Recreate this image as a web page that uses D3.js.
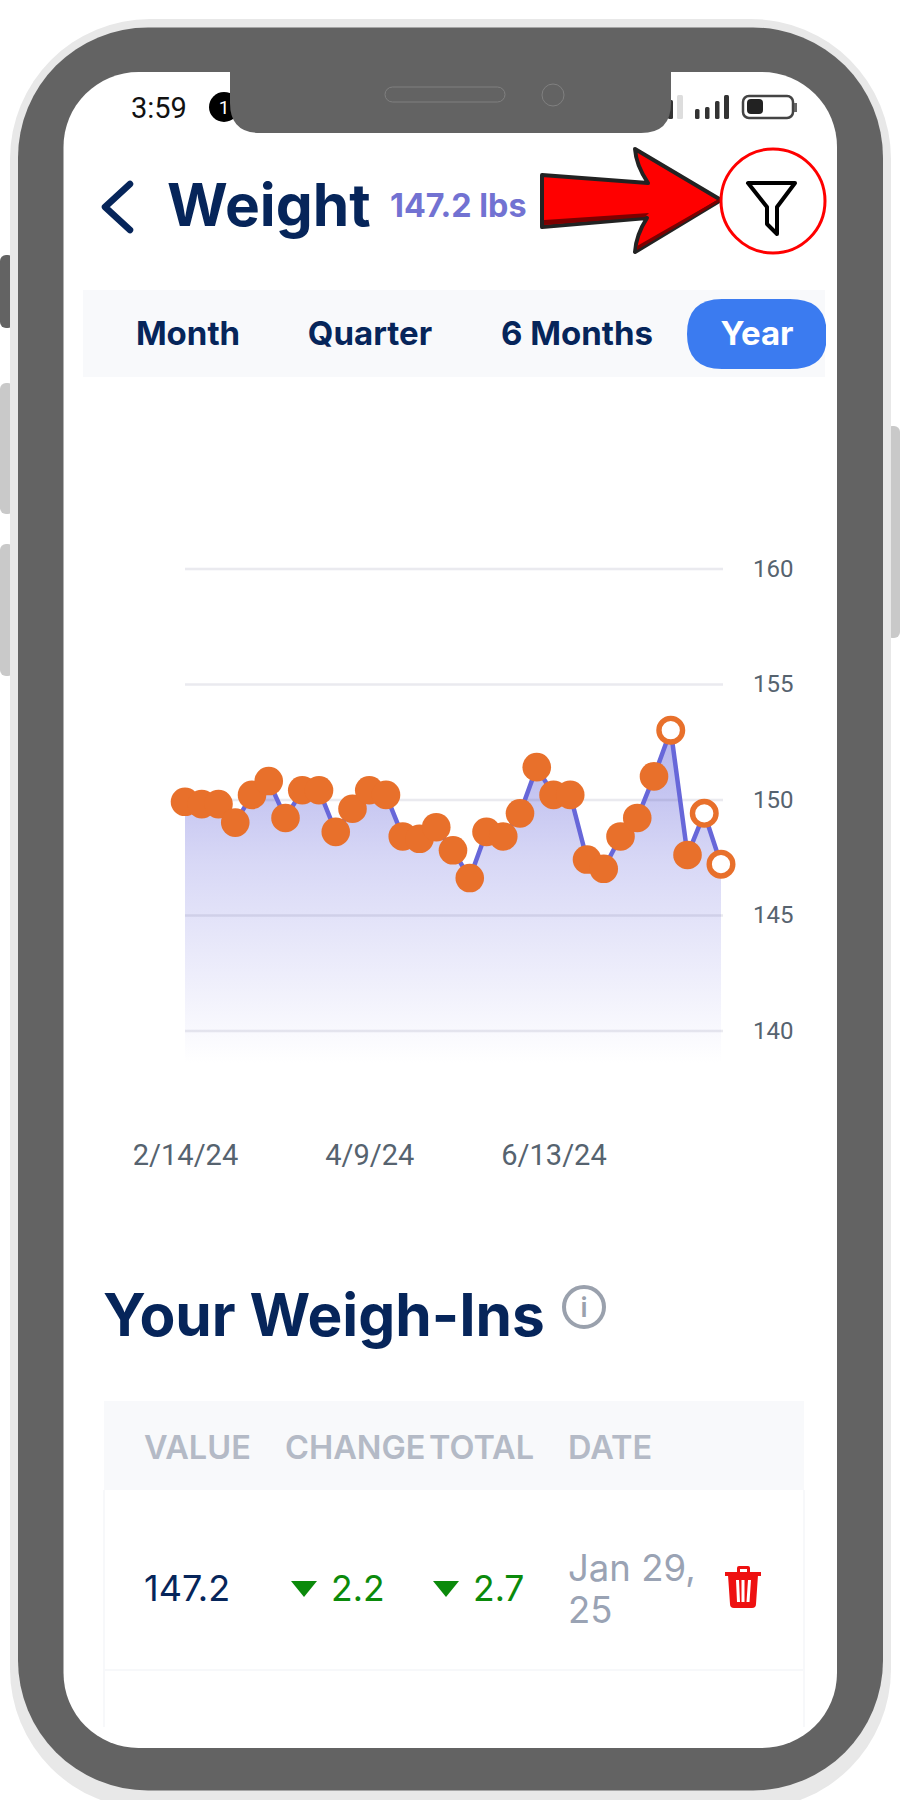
<!DOCTYPE html>
<html>
<head>
<meta charset="utf-8">
<script src="https://cdn.jsdelivr.net/npm/d3@7"></script>
<style>
  html, body { margin: 0; padding: 0; background: #fff; }
  svg { display: block; }
  text { font-family: Inter, "Noto Sans", sans-serif; }
  .axis text { font-family: Roboto, sans-serif; font-size: 24px; fill: #56636f; }
  .axis .domain { display: none; }
  .xaxis text { font-size: 29px; }
</style>
</head>
<body>
<svg id="chart" width="900" height="1800"></svg>
<script>
// Weigh-ins, oldest first
var weights = [149.9, 149.8, 149.8, 149.0, 150.2, 150.8, 149.2, 150.4, 150.4, 148.6, 149.6,
  150.4, 150.2, 148.4, 148.3, 148.8, 147.8, 146.6, 148.6, 148.4, 149.4, 151.4,
  150.2, 150.2, 147.4, 147.0, 148.4, 149.2, 151.0, 153.0, 147.6, 149.4, 147.2];
// These points are drawn hollow
var openPoints = [29, 31, 32];
var yTicks = [140, 145, 150, 155, 160];
var xTickIndex = [0, 11, 22];
var xTickLabels = ["2/14/24", "4/9/24", "6/13/24"];

var tabs = ["Month", "Quarter", "6 Months", "Year"];
var tabCenters = [188, 370, 577, 757];
var tableHeads = ["VALUE", "CHANGE", "TOTAL", "DATE"];
var tableHeadX = [144, 285, 429, 568];

var navy = "#06255a";
var svg = d3.select("#chart");

// Phone body
svg.append("rect").attr("x", 0).attr("y", 255).attr("width", 14).attr("height", 73).attr("rx", 6).attr("fill", "#636363");
svg.append("rect").attr("x", 0).attr("y", 383).attr("width", 14).attr("height", 131).attr("rx", 6).attr("fill", "#c9c9c9");
svg.append("rect").attr("x", 0).attr("y", 544).attr("width", 14).attr("height", 132).attr("rx", 6).attr("fill", "#c9c9c9");
svg.append("rect").attr("x", 886).attr("y", 426).attr("width", 14).attr("height", 212).attr("rx", 6).attr("fill", "#c9c9c9");
svg.append("rect").attr("x", 10).attr("y", 19).attr("width", 881).attr("height", 1790).attr("rx", 140).attr("fill", "#e8e8e8");
svg.append("rect").attr("x", 18).attr("y", 27.5).attr("width", 865).attr("height", 1763).attr("rx", 130).attr("fill", "#636363");
svg.append("rect").attr("x", 63.5).attr("y", 72).attr("width", 773.5).attr("height", 1676).attr("rx", 75).attr("fill", "#fff");

// Status bar
svg.append("text").attr("x", 131).attr("y", 118).attr("font-size", 29).attr("fill", "#111")
  .style("font-family", "Roboto").text("3:59");
svg.append("circle").attr("cx", 224).attr("cy", 107).attr("r", 15).attr("fill", "#000");
svg.append("text").attr("x", 224).attr("y", 114).attr("text-anchor", "middle").attr("font-size", 19)
  .attr("fill", "#fff").style("font-family", "Roboto").text("1");
[[668, 100, 5, "#333"], [677, 95, 6, "#ddd"], [695, 109, 4.5, "#333"], [705, 107, 4.5, "#333"], [715, 101, 4.5, "#333"], [724, 95, 5, "#333"]]
  .forEach(function (b) {
    svg.append("rect").attr("x", b[0]).attr("y", b[1]).attr("width", b[2]).attr("height", 119 - b[1]).attr("rx", 1.5).attr("fill", b[3]);
  });
svg.append("rect").attr("x", 743).attr("y", 96).attr("width", 50).attr("height", 22).attr("rx", 6)
  .attr("fill", "#fff").attr("stroke", "#444").attr("stroke-width", 2.5);
svg.append("rect").attr("x", 747).attr("y", 99).attr("width", 16).attr("height", 15).attr("rx", 4).attr("fill", "#222");
svg.append("rect").attr("x", 794).attr("y", 103).attr("width", 3).attr("height", 9).attr("fill", "#666");

// Notch
svg.append("path").attr("fill", "#636363")
  .attr("d", "M230,72 H671 V103 Q671,133 641,133 H260 Q230,133 230,103 Z");
svg.append("rect").attr("x", 385).attr("y", 87).attr("width", 120).attr("height", 15).attr("rx", 7.5)
  .attr("fill", "none").attr("stroke", "#808080").attr("stroke-width", 1);
svg.append("circle").attr("cx", 553).attr("cy", 95).attr("r", 11)
  .attr("fill", "none").attr("stroke", "#808080").attr("stroke-width", 1);

// Header
svg.append("path").attr("d", "M130,184 L105,207 L130,230").attr("fill", "none")
  .attr("stroke", navy).attr("stroke-width", 6.5).attr("stroke-linecap", "round").attr("stroke-linejoin", "round");
svg.append("text").attr("x", 167).attr("y", 226).attr("font-size", 58.6).attr("font-weight", 700)
  .attr("fill", navy).text("Weight");
svg.append("text").attr("x", 390).attr("y", 217).attr("font-size", 32.3).attr("font-weight", 700)
  .attr("fill", "#7272d2").text("147.2 lbs");

// Red arrow pointing at the filter
svg.append("path").attr("fill", "#f00").attr("stroke", "#222").attr("stroke-width", 4).attr("stroke-linejoin", "round")
  .attr("d", "M542,175 L648,183 Q636,165 635,149 L721,200 L635,252 Q636,235 647,218 L542,227 Z");
svg.append("path").attr("fill", "#7d0000")
  .attr("d", "M544,220 L649,213 L645,217 L544,225 Z M719,199 L637,246 L637,250 L719,202 Z");
svg.append("circle").attr("cx", 773).attr("cy", 201).attr("r", 52).attr("fill", "#fff")
  .attr("stroke", "#f00").attr("stroke-width", 3);
svg.append("path").attr("fill", "#fff").attr("stroke", "#000").attr("stroke-width", 4).attr("stroke-linejoin", "round")
  .attr("d", "M748,183 H795 L777,207 V234 L767,224 V207 Z");

// Range tabs
svg.append("rect").attr("x", 83).attr("y", 290).attr("width", 742).attr("height", 87).attr("fill", "#f8f9fb");
svg.append("path").attr("fill", "#3b7bf0")
  .attr("d", "M722,299 H790 Q822,299 826,325 V345 Q822,369 790,369 H722 Q687,369 687,334 Q687,299 722,299 Z");
svg.selectAll(".tab").data(tabs).enter().append("text").attr("class", "tab")
  .attr("x", function (d, i) { return tabCenters[i]; })
  .attr("y", 345)
  .attr("text-anchor", "middle").attr("font-size", 33).attr("font-weight", 700)
  .attr("fill", function (d) { return d === "Year" ? "#fff" : navy; })
  .text(function (d) { return d; });

// Scales
var x = d3.scaleLinear().domain([0, weights.length - 1]).range([185, 721]);
var y = d3.scaleLinear().domain([140, 160]).range([1030.5, 568.5]);

// Area under the line, fades out below the 140 gridline
var grad = svg.append("defs").append("linearGradient").attr("id", "fade")
  .attr("gradientUnits", "userSpaceOnUse").attr("x1", 0).attr("x2", 0).attr("y1", y(153)).attr("y2", 1063);
grad.append("stop").attr("offset", 0).attr("stop-color", "#b4b4ec");
grad.append("stop").attr("offset", 0.4).attr("stop-color", "#d8d8f6");
grad.append("stop").attr("offset", 1).attr("stop-color", "#ffffff");

var area = d3.area().x(function (d, i) { return x(i); }).y0(1063).y1(function (d) { return y(d); });
svg.append("path").datum(weights).attr("d", area).attr("fill", "url(#fade)");

// Axes and gridlines
var yAxis = svg.append("g").attr("class", "axis").attr("transform", "translate(185,0)")
  .call(d3.axisRight(y).tickValues(yTicks).tickSize(538).tickPadding(30));
yAxis.selectAll("line").attr("stroke", "#3c3c6e").attr("stroke-opacity", 0.11).attr("stroke-width", 2.5);

var xAxis = svg.append("g").attr("class", "axis xaxis").attr("transform", "translate(0,1134)")
  .call(d3.axisBottom(x).tickValues(xTickIndex).tickSize(0).tickPadding(10)
    .tickFormat(function (d, i) { return xTickLabels[i]; }));

// Weight line and points
var line = d3.line().x(function (d, i) { return x(i); }).y(function (d) { return y(d); });
svg.append("path").datum(weights).attr("d", line).attr("fill", "none")
  .attr("stroke", "#6767d9").attr("stroke-width", 4.5);

svg.selectAll(".pt").data(weights).enter().append("circle").attr("class", "pt")
  .attr("cx", function (d, i) { return x(i); })
  .attr("cy", function (d) { return y(d); })
  .attr("r", function (d, i) { return openPoints.includes(i) ? 11.8 : 14.3; })
  .attr("fill", function (d, i) { return openPoints.includes(i) ? "#fff" : "#e8702b"; })
  .attr("stroke", function (d, i) { return openPoints.includes(i) ? "#e8702b" : "none"; })
  .attr("stroke-width", 5.4);

// Your Weigh-Ins heading
svg.append("text").attr("x", 103).attr("y", 1336).attr("font-size", 58.6).attr("font-weight", 700)
  .attr("fill", navy).text("Your Weigh-Ins");
svg.append("circle").attr("cx", 584).attr("cy", 1307).attr("r", 20).attr("fill", "none")
  .attr("stroke", "#9aa1ad").attr("stroke-width", 4);
svg.append("text").attr("x", 584).attr("y", 1317).attr("text-anchor", "middle").attr("font-size", 27)
  .attr("font-weight", 600).attr("fill", "#9aa1ad").text("i");

// Table
svg.append("rect").attr("x", 104).attr("y", 1401).attr("width", 700).attr("height", 89).attr("fill", "#f8f9fb");
svg.append("path").attr("fill", "none").attr("stroke", "#f7f8fa").attr("stroke-width", 2)
  .attr("d", "M104,1490 V1727 M804,1490 V1727 M104,1670 H804");
svg.selectAll(".head").data(tableHeads).enter().append("text").attr("class", "head")
  .attr("x", function (d, i) { return tableHeadX[i]; })
  .attr("y", 1459).attr("font-size", 32.5).attr("font-weight", 600).attr("fill", "#b4bac6")
  .text(function (d) { return d; });

svg.append("text").attr("x", 144).attr("y", 1601).attr("font-size", 36).attr("fill", navy).text("147.2");
[[304, "2.2", 331], [446, "2.7", 473]].forEach(function (c) {
  svg.append("path").attr("fill", "#0b8a0b")
    .attr("d", "M" + (c[0] - 13) + ",1581 H" + (c[0] + 13) + " L" + c[0] + ",1597 Z");
  svg.append("text").attr("x", c[2]).attr("y", 1601).attr("font-size", 35.5).attr("fill", "#0b8a0b").text(c[1]);
});
svg.append("text").attr("x", 568).attr("y", 1581).attr("font-size", 36.5).attr("fill", "#9aa3b4").text("Jan 29,");
svg.append("text").attr("x", 568).attr("y", 1623).attr("font-size", 36.5).attr("fill", "#9aa3b4").text("25");

// Trash icon
svg.append("path").attr("fill", "#ee1111")
  .attr("d", "M725,1572 H761 V1576 H725 Z M737,1572 V1568 Q737,1566 739,1566 H748 Q750,1566 750,1568 V1572 H747 V1569 H740 V1572 Z M728,1575 H758 L756,1604 Q756,1608 752,1608 H734 Q730,1608 730,1604 Z");
svg.append("path").attr("stroke", "#fff").attr("stroke-width", 3)
  .attr("d", "M737.5,1580 L738.5,1602 M743,1580 V1602 M749.5,1580 L748,1602");
</script>
</body>
</html>
